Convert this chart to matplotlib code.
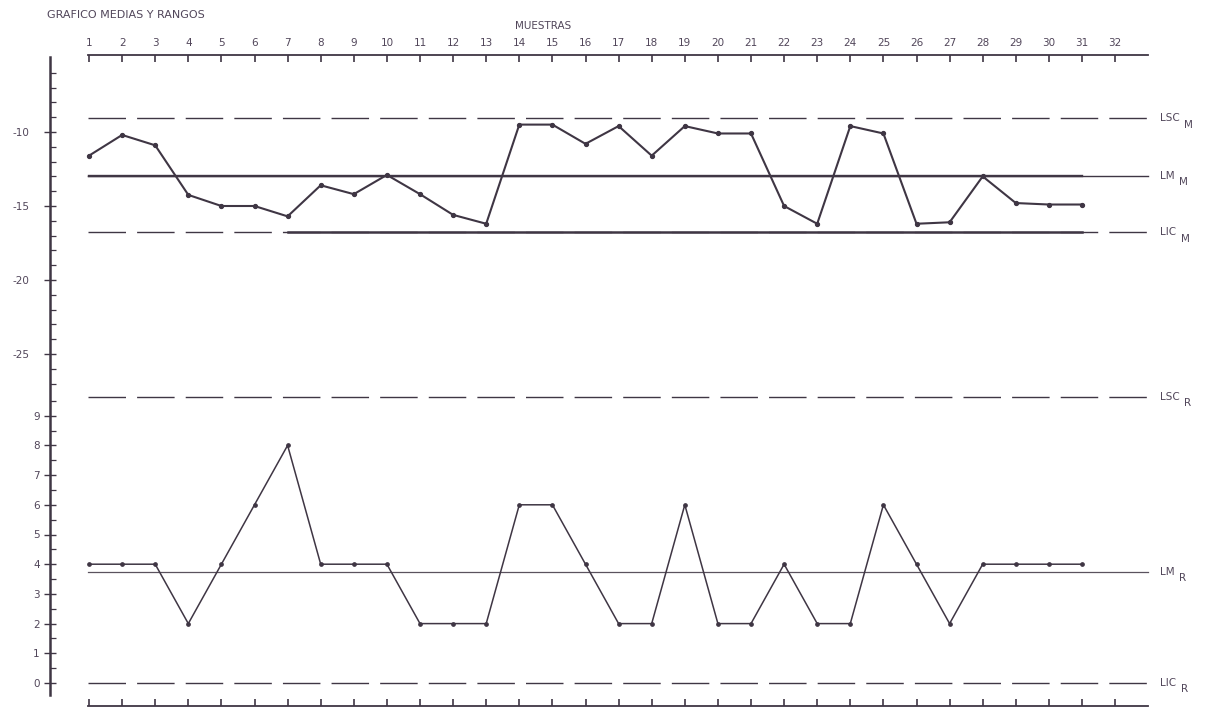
import matplotlib
matplotlib.use('Agg')
import matplotlib.pyplot as plt
import numpy as np

# --- data ---
MUESTRAS = list(range(1, 32))
MEDIAS = [-11.6, -10.2, -10.9, -14.25, -15.0, -15.0, -15.7, -13.6, -14.2, -12.9,
          -14.2, -15.6, -16.2, -9.5, -9.5, -10.8, -9.6, -11.6, -9.6, -10.1,
          -10.1, -15.0, -16.2, -9.6, -10.1, -16.2, -16.1, -13.0, -14.8, -14.9,
          -14.9]
RANGOS = [4, 4, 4, 2, 4, 6, 8, 4, 4, 4, 2, 2, 2, 6, 6, 4, 2, 2, 6, 2,
          2, 4, 2, 2, 6, 4, 2, 4, 4, 4, 4]

LSC_M, LM_M, LIC_M = -9.08, -12.97, -16.78
LSC_R, LM_R, LIC_R = 9.63, 3.74, 0.0
LIC_M_SOLID = (7, 31)          # stretch of LIC_M drawn as a solid stroke
LM_M_SOLID = (1, 31)           # LM_M is heavier up to the last sample

TOP_TICKS = list(range(1, 33))
MEAN_MAJOR = [-10, -15, -20, -25]
MEAN_MINOR = [v for v in range(-27, -5) if v not in MEAN_MAJOR]
RANGE_MAJOR = list(range(0, 10))
RANGE_MINOR = [v + 0.5 for v in range(0, 10)]

INK = '#3f3644'
TXT = '#51465a'
LINE_X = (0.97, 33.0)

plt.rcParams.update({
    'font.family': 'DejaVu Sans',
    'font.size': 7.5,
    'text.color': TXT,
    'xtick.color': INK,
    'ytick.color': INK,
    'xtick.labelcolor': TXT,
    'ytick.labelcolor': TXT,
})

W, H = 1215, 709
fig = plt.figure(figsize=(W / 100, H / 100), dpi=100)
rect = [50 / W, 0, 1 - 50 / W, 1]

# pixel layout of the scan: sample 1 at x=89, 33.1 px per sample
x0 = (50 - 89) / 33.1 + 1
x1 = (W - 89) / 33.1 + 1
# range scale: 0 at y=683, 29.7 px per unit; mean scale: -10 at y=132, 14.8 px per unit
r_lim = ((683 - H) / 29.7, 683 / 29.7)
m_lim = (-10 - (H - 132) / 14.8, -10 + 132 / 14.8)

ax_r = fig.add_axes(rect)
ax_m = fig.add_axes(rect)
for ax in (ax_r, ax_m):
    ax.set_xlim(x0, x1)
    ax.patch.set_alpha(0)
ax_r.set_ylim(*r_lim)
ax_m.set_ylim(*m_lim)

# axes frame: left scale, sample scale on top and bottom
for s in ax_m.spines.values():
    s.set_visible(False)
ax_r.spines['right'].set_visible(False)
ax_r.spines['left'].set_bounds((683 - 695) / 29.7, (683 - 57) / 29.7)
ax_r.spines['top'].set_position(('data', (683 - 55) / 29.7))
ax_r.spines['bottom'].set_position(('data', (683 - 706) / 29.7))
ax_r.spines['top'].set_bounds(*LINE_X)
ax_r.spines['bottom'].set_bounds(*LINE_X)
for s in ax_r.spines.values():
    s.set_color(INK)
    s.set_linewidth(1.3)
ax_r.spines['left'].set_linewidth(1.8)

ax_r.set_xticks(TOP_TICKS)
ax_r.set_xticklabels([str(t) for t in TOP_TICKS])
ax_r.tick_params(axis='x', top=True, bottom=True, labeltop=True, labelbottom=False,
                 direction='in', length=5, width=1.2, pad=5, labelsize=7.5)
ax_m.set_xticks([])

ax_r.set_yticks(RANGE_MAJOR)
ax_r.set_yticklabels([str(v) for v in RANGE_MAJOR])
ax_r.set_yticks(RANGE_MINOR, minor=True)
ax_r.tick_params(axis='y', which='major', direction='inout', length=9, width=1, pad=3)
ax_r.tick_params(axis='y', which='minor', direction='in', length=4, width=0.9)

ax_m.set_yticks(MEAN_MAJOR)
ax_m.set_yticklabels([f'-{abs(v)}' for v in MEAN_MAJOR])
ax_m.set_yticks(MEAN_MINOR, minor=True)
ax_m.tick_params(axis='y', which='major', direction='inout', length=9, width=1, pad=10)
ax_m.tick_params(axis='y', which='minor', direction='in', length=4, width=0.9)

# control lines - means chart
dash = (27, 8)
ax_m.plot(LINE_X, [LSC_M, LSC_M], color=INK, lw=1.0, dashes=dash)
ax_m.plot(LINE_X, [LM_M, LM_M], color=INK, lw=1.0)
ax_m.plot(LM_M_SOLID, [LM_M, LM_M], color=INK, lw=1.7)
ax_m.plot(LINE_X, [LIC_M, LIC_M], color=INK, lw=1.0, dashes=dash)
ax_m.plot(LIC_M_SOLID, [LIC_M, LIC_M], color=INK, lw=1.8)

# control lines - range chart
ax_r.plot(LINE_X, [LSC_R, LSC_R], color=INK, lw=1.0, dashes=dash)
ax_r.plot(LINE_X, [LM_R, LM_R], color='#5a525e', lw=0.9)
ax_r.plot(LINE_X, [LIC_R, LIC_R], color=INK, lw=1.0, dashes=dash)

# data series
ax_m.plot(MUESTRAS, MEDIAS, color=INK, lw=1.5, marker='o', markersize=2.8)
ax_r.plot(MUESTRAS, RANGOS, color=INK, lw=1.1, marker='o', markersize=2.4)

# right-hand line labels, subscript set lower as on the plotter drawing
lab_x = LINE_X[1] + 0.35
for ax, val, name, sub in [
    (ax_m, LSC_M, 'LSC', 'M'), (ax_m, LM_M, 'LM', 'M'), (ax_m, LIC_M, 'LIC', 'M'),
    (ax_r, LSC_R, 'LSC', 'R'), (ax_r, LM_R, 'LM', 'R'), (ax_r, LIC_R, 'LIC', 'R'),
]:
    t = ax.text(lab_x, val, name, fontsize=7.5, ha='left', va='center')
    ax.annotate(sub, xy=(1, 0.5), xycoords=t, xytext=(3.5, -4.5),
                textcoords='offset points', fontsize=7.5, ha='left', va='center')

fig.text(47 / W, 1 - 15 / H, 'GRAFICO MEDIAS Y RANGOS', fontsize=8,
         ha='left', va='center')
fig.text(543 / W, 1 - 26 / H, 'MUESTRAS', fontsize=7.5, ha='center', va='center')

fig.savefig('out.png', dpi=100, facecolor='white')
